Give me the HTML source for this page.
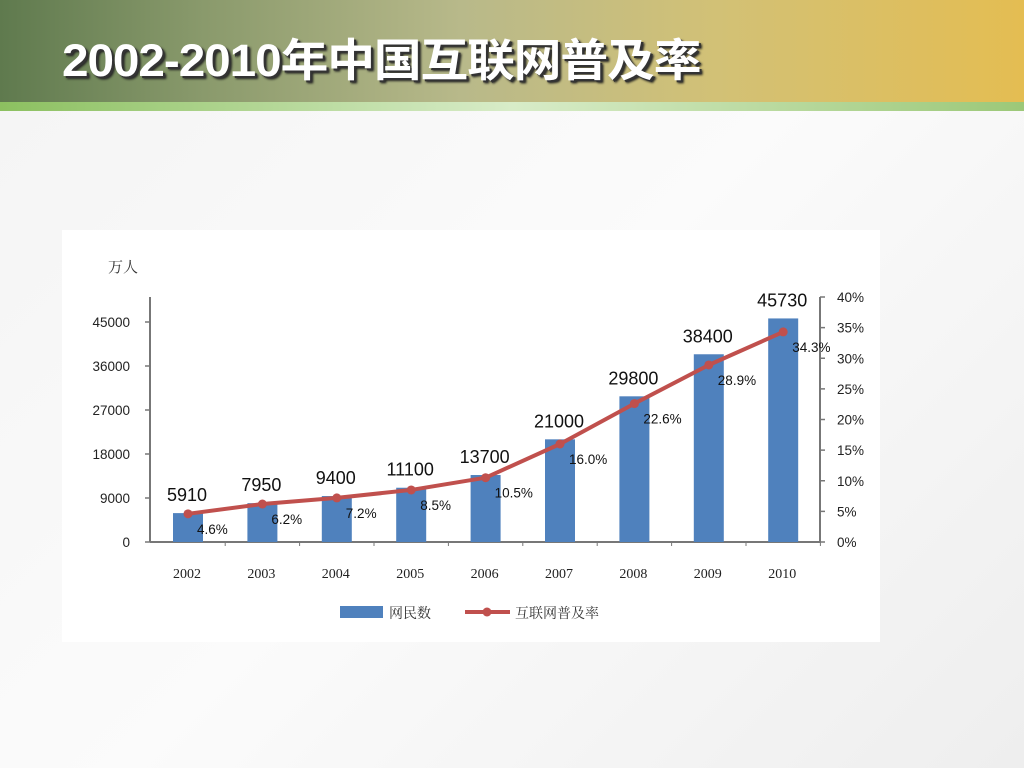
<!DOCTYPE html>
<html><head><meta charset="utf-8">
<style>
body{margin:0;width:1024px;height:768px;overflow:hidden;background:linear-gradient(135deg,#f4f4f4,#fbfbfb 50%,#eeeeee);font-family:"Liberation Sans","Noto Sans CJK SC",sans-serif;position:relative}
#hdr{position:absolute;left:0;top:0;width:1024px;height:102px;background:linear-gradient(90deg,#5f7a4e 0%,#8a9a6c 20%,#b8b98a 45%,#d2c176 70%,#e4bd52 100%)}
#stripe{position:absolute;left:0;top:102px;width:1024px;height:9px;background:linear-gradient(90deg,#8cc060,#d8ecc8 50%,#9cc878)}
#title{position:absolute;left:62px;top:36px;font-size:45px;line-height:50px;font-weight:bold;color:#fff;text-shadow:2px 2px 0 #333,3px 3px 2px #222;letter-spacing:-1px;transform:scaleX(1.06);transform-origin:left;white-space:nowrap}
#panel{position:absolute;left:62px;top:230px;width:818px;height:412px;background:#fff}
svg{position:absolute;left:0;top:0}
</style></head><body>
<div id="hdr"></div>
<div id="stripe"></div>
<div id="title">2002-2010年中国互联网普及率</div>
<div id="panel"></div>
<svg id="chart" width="1024" height="768"></svg>
<script>
const years=["2002","2003","2004","2005","2006","2007","2008","2009","2010"];
const users=[5910,7950,9400,11100,13700,21000,29800,38400,45730];
const rates=[4.6,6.2,7.2,8.5,10.5,16.0,22.6,28.9,34.3];
const leftTicks=[0,9000,18000,27000,36000,45000];
const rightTicks=[0,5,10,15,20,25,30,35,40];

const NS="http://www.w3.org/2000/svg";
const svg=document.getElementById('chart');
const X0=150,X1=820,Y0=542;
const yL=v=>Y0-v*220/45000;
const yR=v=>Y0-v*245/40;
const step=74.4;
const xC=i=>188+i*step;
function el(t,a,txt){const e=document.createElementNS(NS,t);for(const k in a)e.setAttribute(k,a[k]);if(txt!==undefined)e.textContent=txt;svg.appendChild(e);return e;}
const F='"Liberation Sans","Noto Sans CJK SC",sans-serif';
const FS='"Liberation Serif","Noto Serif CJK SC",serif';

let t=el('text',{x:108,y:272,'font-size':15,fill:'#333','font-family':FS},'万人');



let a=el('line',{x1:X0,y1:297,x2:X0,y2:Y0,stroke:'#777','stroke-width':2});


a=el('line',{x1:X1,y1:297,x2:X1,y2:Y0,stroke:'#777','stroke-width':2});


a=el('line',{x1:X0,y1:Y0,x2:X1,y2:Y0,stroke:'#777','stroke-width':2});



leftTicks.forEach(v=>{
  el('line',{x1:X0-5,y1:yL(v),x2:X0,y2:yL(v),stroke:'#777','stroke-width':1.5});
  const e=el('text',{x:X0-20,y:yL(v)+5,'font-size':13.5,'text-anchor':'end',fill:'#222','font-family':F},v);
  
  
});
rightTicks.forEach(v=>{
  el('line',{x1:X1,y1:yR(v),x2:X1+5,y2:yR(v),stroke:'#777','stroke-width':1.5});
  const e=el('text',{x:X1+17,y:yR(v)+5,'font-size':13.5,fill:'#222','font-family':F},v+'%');
  
  
});
years.forEach((y,i)=>{
  el('line',{x1:xC(i)+step/2,y1:Y0,x2:xC(i)+step/2,y2:Y0+4,stroke:'#777'});
  const e=el('text',{x:xC(i)-1,y:578,'font-size':14,'text-anchor':'middle',fill:'#222','font-family':FS},y);
  
  
});
users.forEach((v,i)=>{
  const b=el('rect',{x:xC(i)-15,y:yL(v),width:30,height:Y0-yL(v),fill:'#4f81bd'});
  
  
  const l=el('text',{x:xC(i)-1,y:yL(v)-12,'font-size':18,'text-anchor':'middle',fill:'#111','font-family':F},v);
  
  
});
const pts=rates.map((r,i)=>xC(i)+','+yR(r)).join(' ');
const pl=el('polyline',{points:pts,fill:'none',stroke:'#c0504d','stroke-width':4,'stroke-linejoin':'round'});


rates.forEach((r,i)=>{
  const c=el('circle',{cx:xC(i),cy:yR(r),r:4.5,fill:'#c0504d'});
  
  
  const l=el('text',{x:xC(i)+9,y:yR(r)+20,'font-size':13.5,fill:'#111','font-family':F},r.toFixed(1)+'%');
  
  
});
let lg=el('rect',{x:340,y:606,width:43,height:12,fill:'#4f81bd'});


lg=el('text',{x:389,y:618,'font-size':14,fill:'#333','font-family':FS},'网民数');


lg=el('line',{x1:465,y1:612,x2:510,y2:612,stroke:'#c0504d','stroke-width':4});


el('circle',{cx:487,cy:612,r:4.5,fill:'#c0504d'});
lg=el('text',{x:515,y:618,'font-size':14,fill:'#333','font-family':FS},'互联网普及率');


</script>
</body></html>
